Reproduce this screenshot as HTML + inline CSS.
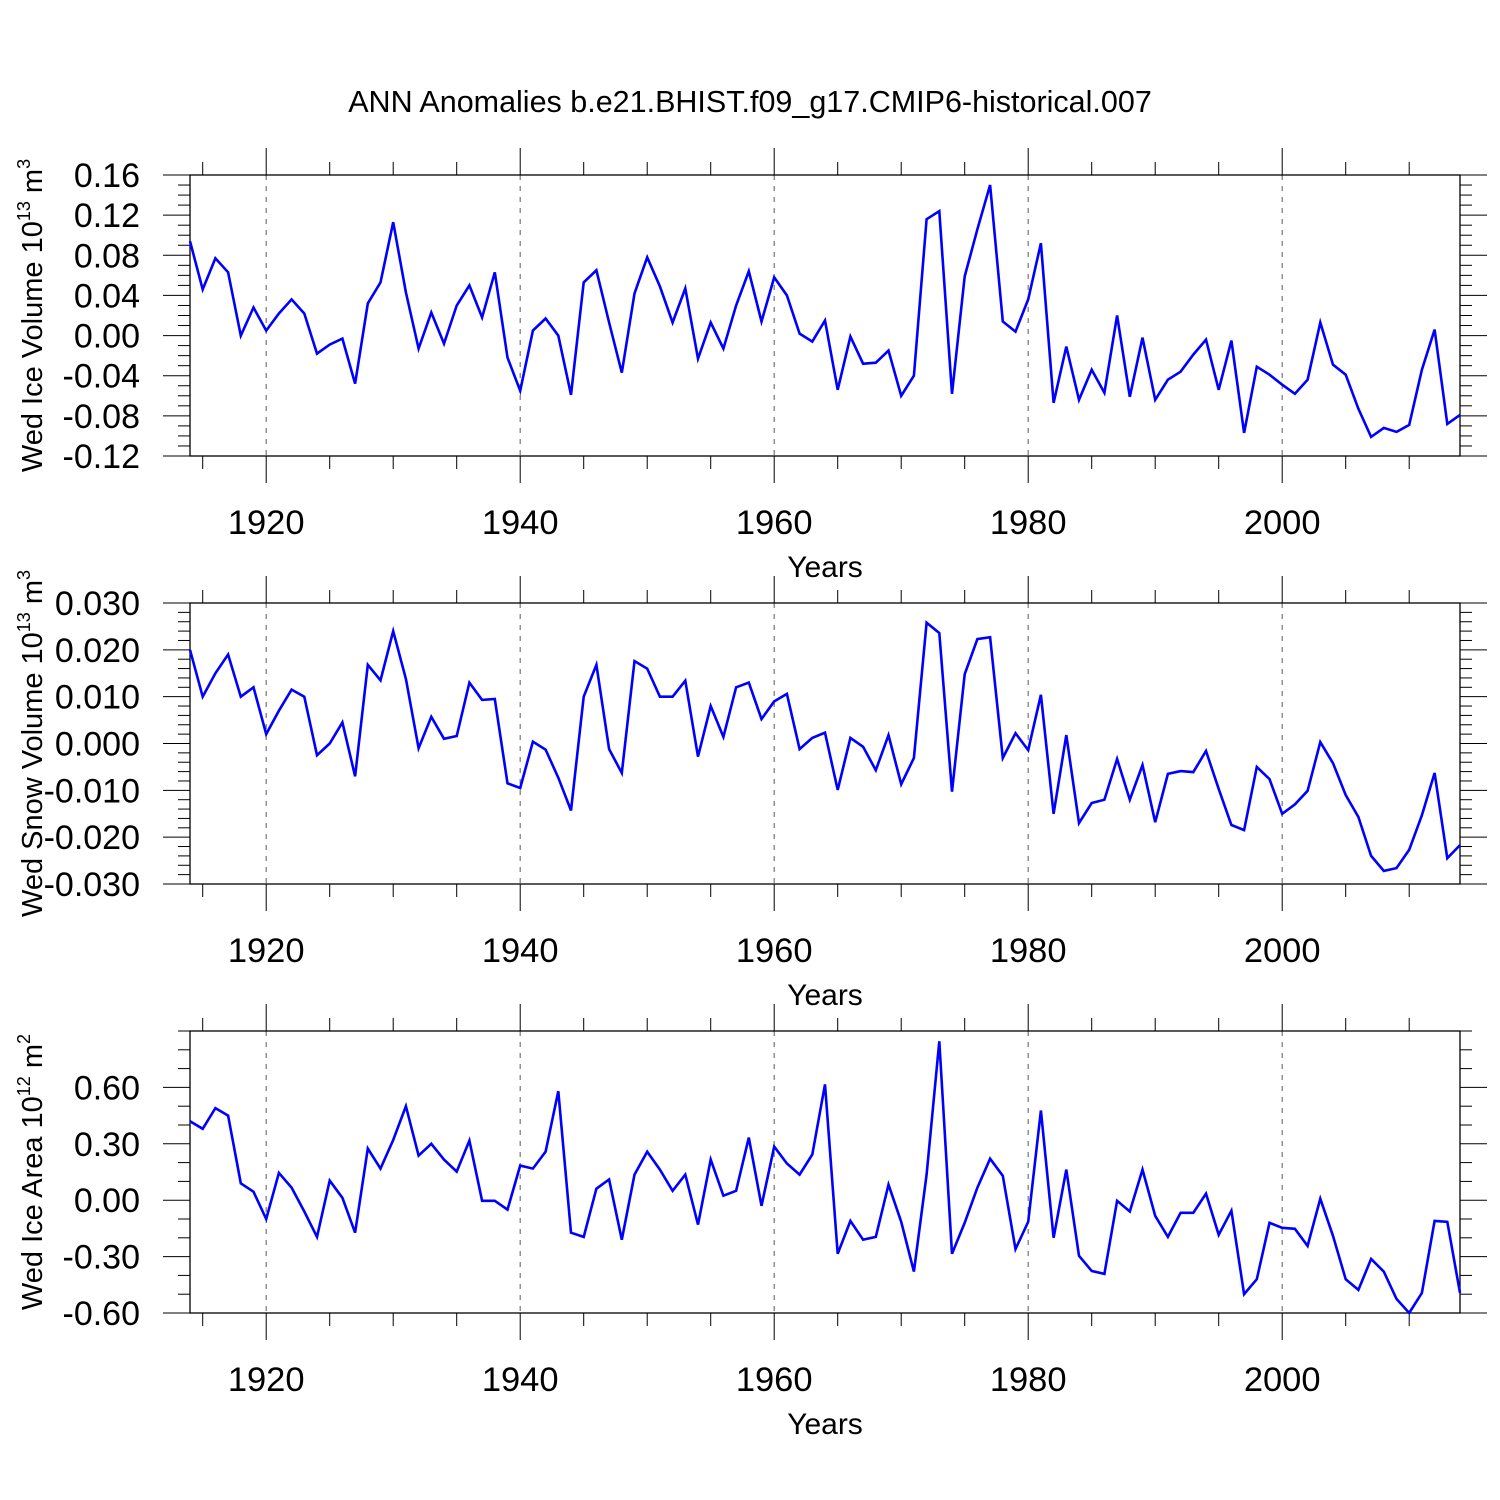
<!DOCTYPE html>
<html><head><meta charset="utf-8"><style>
html,body{margin:0;padding:0;background:#fff}
svg{display:block;font-family:"Liberation Sans",Arial,sans-serif}
</style></head><body>
<svg id="chart" width="1500" height="1500" viewBox="0 0 1500 1500" xmlns="http://www.w3.org/2000/svg">
<text x="750" y="112" font-size="30.5" text-anchor="middle">ANN Anomalies b.e21.BHIST.f09_g17.CMIP6-historical.007</text>
</svg>
<script>
const years = [];
for (let y = 1914; y <= 2014; y++) years.push(y);
const xTickLabels = ["1920","1940","1960","1980","2000"];
const iceVolume = [0.094,0.046,0.077,0.063,0.0,0.028,0.005,0.022,0.036,0.022,-0.018,-0.009,-0.003,-0.048,0.032,0.053,0.113,0.043,-0.013,0.023,-0.008,0.030,0.050,0.018,0.063,-0.022,-0.055,0.005,0.017,0.0,-0.059,0.053,0.065,0.013,-0.037,0.042,0.078,0.049,0.013,0.047,-0.023,0.013,-0.013,0.030,0.064,0.014,0.058,0.040,0.002,-0.006,0.015,-0.054,-0.001,-0.028,-0.027,-0.015,-0.060,-0.040,0.116,0.124,-0.058,0.059,0.106,0.150,0.014,0.004,0.036,0.092,-0.067,-0.011,-0.064,-0.034,-0.057,0.020,-0.061,-0.002,-0.064,-0.044,-0.036,-0.019,-0.004,-0.054,-0.005,-0.097,-0.031,-0.039,-0.049,-0.058,-0.044,0.013,-0.029,-0.039,-0.073,-0.101,-0.092,-0.096,-0.089,-0.034,0.006,-0.088,-0.079];
const snowVolume = [0.020,0.010,0.015,0.019,0.010,0.012,0.002,0.007,0.0115,0.010,-0.0025,0.0,0.0045,-0.007,0.0168,0.0135,0.024,0.0138,-0.001,0.0057,0.001,0.0016,0.013,0.0093,0.0095,-0.0085,-0.0095,0.0004,-0.0013,-0.0073,-0.0143,0.010,0.0168,-0.0012,-0.0063,0.0176,0.016,0.010,0.010,0.0134,-0.0028,0.008,0.0014,0.012,0.013,0.0052,0.009,0.0106,-0.0012,0.0012,0.0023,-0.0099,0.0012,-0.0007,-0.0057,0.0018,-0.0087,-0.0031,0.0258,0.0236,-0.0103,0.0148,0.0223,0.0227,-0.0031,0.0022,-0.0014,0.0104,-0.015,0.0018,-0.017,-0.0127,-0.012,-0.0033,-0.012,-0.0046,-0.0168,-0.0065,-0.0059,-0.0061,-0.0016,-0.0097,-0.0174,-0.0185,-0.005,-0.0076,-0.015,-0.013,-0.0101,0.0003,-0.0042,-0.011,-0.0157,-0.024,-0.0272,-0.0266,-0.0227,-0.0153,-0.0063,-0.0245,-0.0217];
const iceArea = [0.42,0.38,0.49,0.45,0.09,0.045,-0.10,0.145,0.067,-0.06,-0.195,0.104,0.013,-0.173,0.275,0.168,0.32,0.50,0.237,0.30,0.216,0.152,0.317,-0.003,-0.003,-0.05,0.184,0.168,0.258,0.58,-0.173,-0.195,0.061,0.11,-0.21,0.136,0.258,0.163,0.05,0.136,-0.13,0.216,0.024,0.05,0.333,-0.03,0.285,0.195,0.136,0.243,0.616,-0.285,-0.11,-0.21,-0.195,0.083,-0.115,-0.38,0.136,0.845,-0.285,-0.12,0.067,0.221,0.13,-0.26,-0.115,0.477,-0.2,0.163,-0.296,-0.376,-0.392,-0.003,-0.06,0.163,-0.083,-0.195,-0.067,-0.067,0.035,-0.184,-0.056,-0.5,-0.42,-0.12,-0.147,-0.152,-0.243,0.008,-0.19,-0.42,-0.477,-0.312,-0.38,-0.525,-0.6,-0.493,-0.11,-0.115,-0.493];
const yTicks1 = ["0.16","0.12","0.08","0.04","0.00","-0.04","-0.08","-0.12"];
const yTicks2 = ["0.030","0.020","0.010","0.000","-0.010","-0.020","-0.030"];
const yTicks3 = ["0.60","0.30","0.00","-0.30","-0.60"];

const NS = "http://www.w3.org/2000/svg";
const svg = document.getElementById("chart");
const X0 = 190, X1 = 1460, YMIN = 1914, YMAX = 2014;
function xScale(yr){ return X0 + (yr - YMIN) / (YMAX - YMIN) * (X1 - X0); }
function mk(tag, attrs, parent){
  const e = document.createElementNS(NS, tag);
  for (const k in attrs) e.setAttribute(k, attrs[k]);
  (parent || svg).appendChild(e);
  return e;
}
const panels = [
  {name:"ice-volume", data: iceVolume, ticks: yTicks1, top:175, bot:456, vmin:-0.12, vmax:0.16, minor:0.01, title:"Wed Ice Volume 10", exp:"13", unit:" m", uexp:"3"},
  {name:"snow-volume", data: snowVolume, ticks: yTicks2, top:603, bot:884, vmin:-0.03, vmax:0.03, minor:0.002, title:"Wed Snow Volume 10", exp:"13", unit:" m", uexp:"3"},
  {name:"ice-area", data: iceArea, ticks: yTicks3, top:1031, bot:1313, vmin:-0.6, vmax:0.9, minor:0.1, title:"Wed Ice Area 10", exp:"12", unit:" m", uexp:"2"}
];
panels.forEach(p => {
  const g = mk("g", {});
  
  
  const ys = v => p.bot - (v - p.vmin) / (p.vmax - p.vmin) * (p.bot - p.top);
  xTickLabels.forEach(l => {
    const x = xScale(+l);
    const gl = mk("line", {x1:x, x2:x, y1:p.top, y2:p.bot, stroke:"#777", "stroke-width":1.2, "stroke-dasharray":"5,6"}, g);
    
    
  });
  for (let yr = 1915; yr <= 2010; yr += 5) {
    const x = xScale(yr);
    const major = yr % 20 === 0;
    const L = major ? 27 : 13;
    mk("line", {x1:x, x2:x, y1:p.bot, y2:p.bot + L, stroke:"#000", "stroke-width":1}, g);
    mk("line", {x1:x, x2:x, y1:p.top, y2:p.top - L, stroke:"#000", "stroke-width":1}, g);
  }
  const n = Math.round((p.vmax - p.vmin) / p.minor);
  const majorStep = (+p.ticks[0] - +p.ticks[1]);
  for (let i = 0; i <= n; i++) {
    const v = p.vmin + i * p.minor;
    const r = (v - (+p.ticks[p.ticks.length-1])) / majorStep;
    const major = Math.abs(r - Math.round(r)) < 1e-6 && v <= +p.ticks[0] + 1e-9;
    const L = major ? 27 : 12;
    const y = ys(v);
    mk("line", {x1:X0 - L, x2:X0, y1:y, y2:y, stroke:"#000", "stroke-width":1}, g);
    mk("line", {x1:X1, x2:X1 + L, y1:y, y2:y, stroke:"#000", "stroke-width":1}, g);
  }
  p.ticks.forEach(t => {
    const tx = mk("text", {x:140, y:ys(+t) + 12, "font-size":34, "text-anchor":"end"}, g);
    tx.textContent = t;
    
    
  });
  xTickLabels.forEach(l => {
    const tx = mk("text", {x:xScale(+l), y:p.bot + 78, "font-size":34.5, "text-anchor":"middle"}, g);
    tx.textContent = l;
    
    
  });
  const xt = mk("text", {x:825, y:p.bot + 121, "font-size":30, "text-anchor":"middle"}, g);
  xt.textContent = "Years";
  
  
  const cy = (p.top + p.bot) / 2;
  const yt = mk("text", {x:0, y:0, "font-size":29, "text-anchor":"middle", transform:`translate(42,${cy}) rotate(-90)`}, g);
  
  
  const t1 = mk("tspan", {}, yt); t1.textContent = p.title;
  const t2 = mk("tspan", {dy:-12, "font-size":18}, yt); t2.textContent = p.exp;
  const t3 = mk("tspan", {dy:12}, yt); t3.textContent = p.unit;
  const t4 = mk("tspan", {dy:-12, "font-size":18}, yt); t4.textContent = p.uexp;
  const b = mk("rect", {x:X0, y:p.top, width:X1 - X0, height:p.bot - p.top, fill:"none", stroke:"#000", "stroke-width":1.3}, g);
  
  
  const pts = p.data.map((v, i) => xScale(years[i]).toFixed(1) + "," + ys(v).toFixed(1)).join(" ");
  const pl = mk("polyline", {points:pts, fill:"none", stroke:"#0000ff", "stroke-width":2.6, "stroke-linejoin":"miter"}, g);
  
  
});
</script>
</body></html>
